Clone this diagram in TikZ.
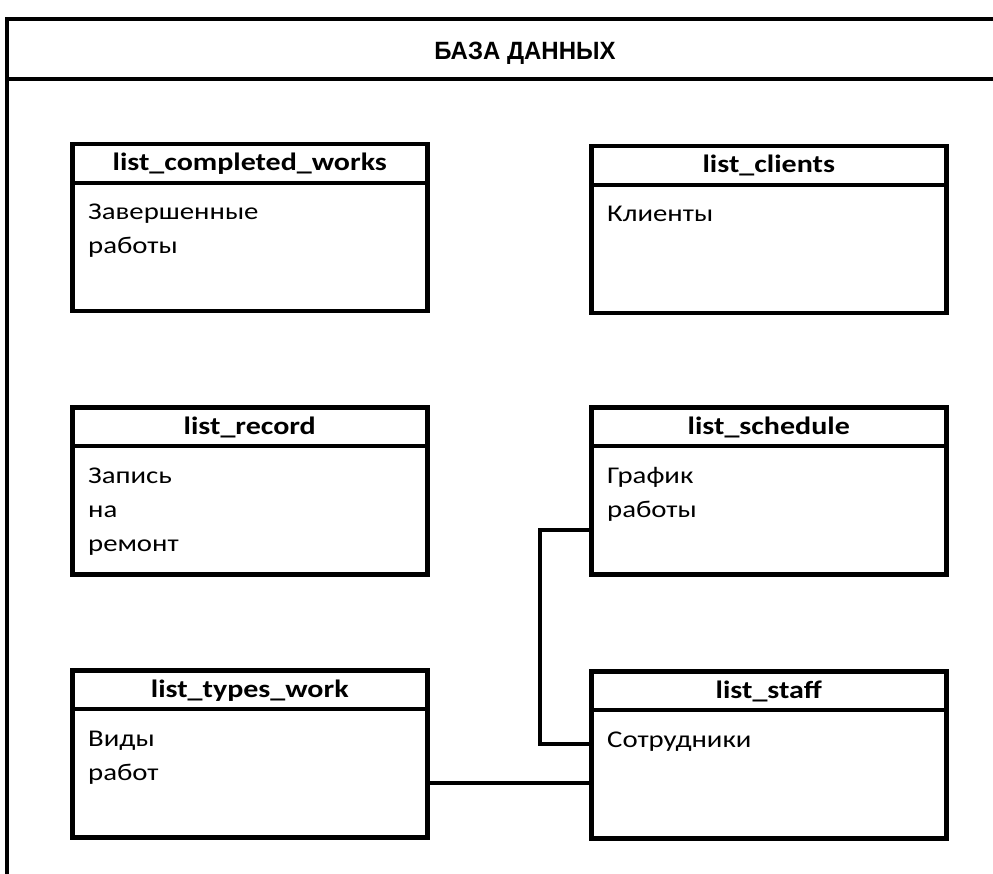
\documentclass[tikz,border=0pt]{standalone}
\usepackage{fontspec}
\setmainfont{Carlito}
\newfontfamily\bodyfont[FakeStretch=1.2]{Carlito}
\newfontfamily\headfont[FakeStretch=0.96]{Liberation Sans}
\usetikzlibrary{calc}
\tikzset{
  frameline/.style={line width=4pt},
  tbox/.style={draw, line width=4.5pt, minimum width=355pt, minimum height=167pt, inner sep=0pt},
  divline/.style={line width=4pt},
  ttl/.style={font=\bodyfont\fontsize{25}{28}\selectfont\bfseries, inner sep=0pt, anchor=base},
  tbody/.style={font=\bodyfont\fontsize{24}{34}\selectfont, inner sep=0pt, anchor=base west},
  conn/.style={line width=4pt},
}
\newcommand\dbtable[5]{%
  \node[tbox, anchor=north west] (#1) at (#2,#3) {};
  \draw[divline] ([yshift=-41pt]#1.north west) -- ([yshift=-41pt]#1.north east);
  \node[ttl] (#1-t) at ([yshift=-29pt]#1.north) {#4};
  \node[tbody] (#1-b) at ([xshift=18pt,yshift=-78pt]#1.north west) {\begin{tabular}[t]{@{}l@{}}#5\end{tabular}};
}
\begin{document}
\begin{tikzpicture}[x=1pt,y=-1pt]
  \useasboundingbox[fill=white] (0,0) rectangle (993,874);
  \clip (0,0) rectangle (993,874);
  \coordinate (ftr) at (1000,19);
  \coordinate (ftl) at (7,19);
  \coordinate (fbl) at (7,880);
  \coordinate (hl) at (7,79);
  \coordinate (hr) at (1000,79);
  \draw[frameline] (ftr) -- (ftl) -- (fbl);
  \draw[frameline] (hl) -- (hr);
  \node[font=\headfont\fontsize{25}{28}\selectfont\bfseries, inner sep=0pt, anchor=base] (head) at (525,60) {БАЗА ДАННЫХ};

  \dbtable{cw}{70}{142}{list\_completed\_works}{Завершенные\\работы}
  \dbtable{cl}{589}{144}{list\_clients}{Клиенты}
  \dbtable{rec}{70}{405}{list\_record}{Запись\\на\\ремонт}
  \dbtable{sch}{589}{405}{list\_schedule}{График\\работы}
  \dbtable{tw}{70}{668}{list\_types\_work}{Виды\\работ}
  \dbtable{st}{589}{669}{list\_staff}{Сотрудники}

  \draw[conn] ([yshift=-39pt]sch.west) -- ++(-49,0) |- ([yshift=11pt]st.west);
  \draw[conn] ([yshift=-29pt]tw.east) -- ([yshift=-29pt]tw.east -| st.west);
\end{tikzpicture}
\end{document}
